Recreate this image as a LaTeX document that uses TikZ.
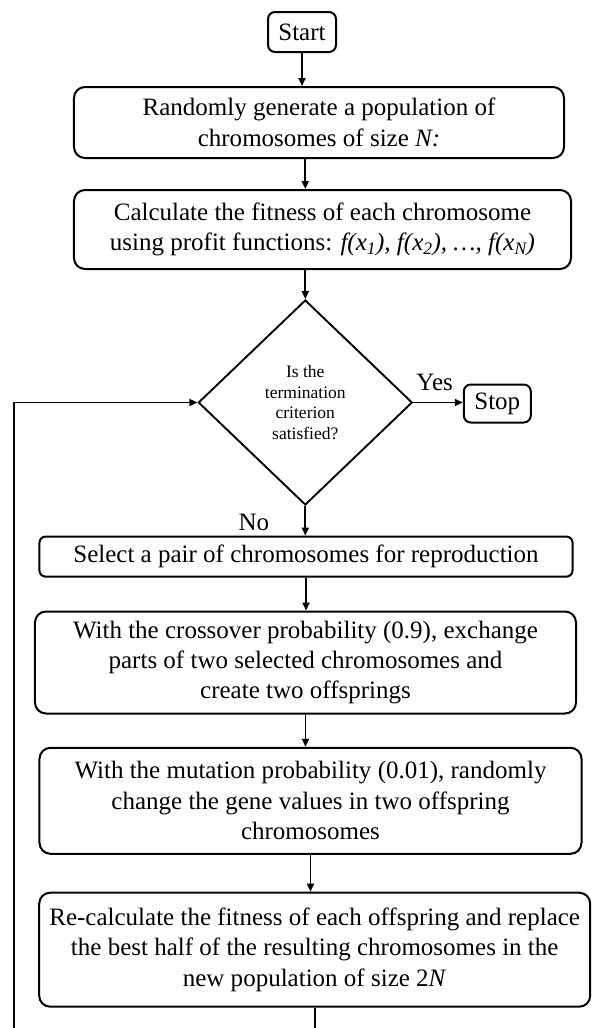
\documentclass[tikz,border=0pt]{standalone}
\usepackage{fontspec}
\setmainfont{Liberation Serif}
\usetikzlibrary{arrows.meta,positioning,shapes.geometric}

\begin{document}
\begin{tikzpicture}[x=1bp, y=-1bp,
		procbox/.style={draw, line width=2bp, rounded corners=11bp, align=center, inner sep=0pt, font=\fontsize{25.1}{30.6}\selectfont},
		endbox/.style={procbox, rounded corners=7bp},
		decision/.style={draw, diamond, line width=1.9bp, inner sep=0pt, align=center, font=\fontsize{17.6}{20.6}\selectfont},
		arr/.style={-{Triangle[length=8bp, width=7bp]}, line width=1.8bp},
		lbl/.style={inner sep=0pt, font=\fontsize{25.1}{30.6}\selectfont}]
		\useasboundingbox (0,0) rectangle (592,1028);
		
		\node[endbox, minimum width=68bp, minimum height=40bp] (start) at (302,32) {Start};
		\node[procbox, minimum width=490bp, minimum height=71bp] (gen) at (319,122.5) {Randomly generate a population of\\ chromosomes of size \textit{N:}};
		\node[procbox, minimum width=497bp, minimum height=79bp] (fit) at (322.5,229.5) {Calculate the fitness of each chromosome\\ using profit functions: \textit{f(x\textsubscript{1}), f(x\textsubscript{2}), \dots, f(x\textsubscript{N})}};
		\node[decision, minimum width=214bp, minimum height=205bp] (tst) at (305.3,402.5) {Is the\\ termination\\ criterion\\ satisfied?};
		\node[endbox, minimum width=67bp, minimum height=38bp] (stop) at (497.3,403.5) {Stop};
		\node[procbox, rounded corners=6bp, minimum width=533bp, minimum height=40bp] (sel) at (306,556.6) {Select a pair of chromosomes for reproduction};
		\node[procbox, minimum width=541bp, minimum height=102bp] (cross) at (305.5,662.5) {With the crossover probability (0.9), exchange\\ parts of two selected chromosomes and\\ create two offsprings};
		\node[procbox, minimum width=542bp, minimum height=106bp] (mut) at (310.5,800.8) {With the mutation probability (0.01), randomly\\ change the gene values in two offspring\\ chromosomes};
		\node[procbox, minimum width=551bp, minimum height=114bp] (recalc) at (314.7,949.7) {Re-calculate the fitness of each offspring and replace\\ the best half of the resulting chromosomes in the\\ new population of size 2\textit{N}};
		
		\node[lbl, above right=12bp and 3bp of tst.east] (yes) {Yes};
		\node[lbl, below left=8bp and 36bp of tst.south] (no) {No};
		\coordinate (loopend) at (14,1028);
		
		\draw[arr] (start.south) -- (start.south |- gen.north);
		\draw[arr] (gen.south -| tst.north) -- (fit.north -| tst.north);
		\draw[arr] (fit.south -| tst.north) -- (tst.north);
		\draw[arr] (tst.east) -- (stop.west |- tst.east);
		\draw[arr] (tst.south) -- (tst.south |- sel.north);
		\draw[arr] (sel.south) -- (sel.south |- cross.north);
		\draw[arr] (cross.south) -- (cross.south |- mut.north);
		\draw[arr] (mut.south) -- (mut.south |- recalc.north);
		\draw[line width=1.8bp] (recalc.south) -- (recalc.south |- loopend);
		\draw[arr] (loopend) |- (tst.west);
	\end{tikzpicture}
\end{document}
